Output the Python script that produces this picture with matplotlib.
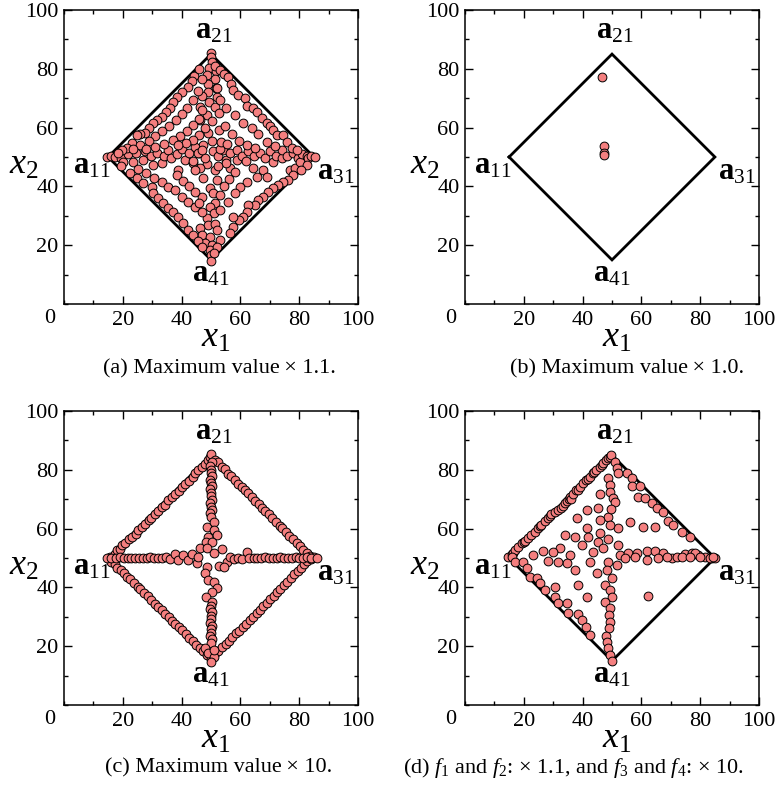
"""
Four scatter panels of solution points inside a diamond of reference points.
"""

import numpy as np
import matplotlib
matplotlib.use("Agg")
import matplotlib.pyplot as plt
from matplotlib.ticker import MultipleLocator

plt.rcParams["font.family"] = ["Liberation Serif", "DejaVu Serif"]
plt.rcParams["mathtext.fontset"] = "custom"
plt.rcParams["mathtext.rm"] = "Liberation Serif"
plt.rcParams["mathtext.it"] = "Liberation Serif:italic"
plt.rcParams["mathtext.bf"] = "Liberation Serif:bold"

# ========== data ==========

# diamond corners a11 -> a21 -> a31 -> a41 -> a11
diamond_x = [15, 50, 85, 50, 15]
diamond_y = [50, 85, 50, 15, 50]
vertex_names = [r"$\mathbf{a}_{11}$", r"$\mathbf{a}_{21}$",
                r"$\mathbf{a}_{31}$", r"$\mathbf{a}_{41}$"]

ticks = [20, 40, 60, 80, 100]

captions = [
    "(a) Maximum value\u2009× 1.1.",
    "(b) Maximum value\u2009× 1.0.",
    "(c) Maximum value\u2009× 10.",
    "(d) $f_1$ and $f_2$: × 1.1, and $f_3$ and $f_4$: × 10.",
]

# (a) maximum value x 1.1
pts_a_cross = [
    (50.0, 85.3), (50.0, 84.0), (50.2, 82.4), (49.4, 80.3), (51.8, 79.4), (48.6, 78.0),
    (51.4, 76.6), (49.1, 74.8), (51.6, 73.6), (49.0, 72.2), (46.8, 70.9), (52.0, 70.3),
    (49.2, 68.8), (51.5, 67.1), (46.3, 67.0), (48.6, 64.4), (52.6, 64.8), (50.2, 62.1),
    (46.2, 62.6), (52.6, 59.3), (49.1, 58.2), (50.3, 55.3), (47.4, 54.2), (50.8, 51.9),
    (48.5, 47.5), (51.4, 45.6), (47.4, 42.7), (52.0, 42.2), (49.7, 39.3), (50.8, 37.6),
    (46.8, 36.5), (51.5, 34.5), (49.5, 33.0), (50.9, 30.8), (48.5, 29.1), (49.1, 26.9),
    (51.4, 27.2), (52.0, 25.2), (46.3, 25.7), (46.8, 23.5), (49.7, 22.9), (48.0, 20.7),
    (50.2, 20.1), (49.7, 18.4), (50.0, 16.7), (50.0, 14.6),
    (14.5, 50.1), (16.0, 50.2), (17.5, 50.0), (19.3, 49.8), (20.2, 48.4), (21.8, 51.0),
    (23.4, 48.4), (24.5, 51.5), (27.0, 49.0), (27.5, 52.0), (29.5, 50.5), (30.4, 47.3),
    (31.5, 51.5), (33.2, 47.8), (34.0, 50.5), (35.5, 52.5), (36.5, 49.5), (38.9, 45.6),
    (38.5, 51.0), (40.0, 52.8), (41.0, 49.0), (42.5, 51.5), (44.0, 47.8), (44.5, 53.5),
    (46.3, 46.1), (46.0, 51.5), (48.0, 49.5), (52.5, 50.5), (54.0, 52.5), (55.0, 49.0),
    (56.5, 46.1), (56.5, 51.5), (58.7, 49.0), (59.0, 52.5), (60.5, 50.5), (62.0, 48.5),
    (62.5, 52.0), (64.4, 46.1), (64.5, 50.5), (66.5, 51.5), (67.8, 45.6), (68.5, 49.5),
    (70.0, 52.0), (71.2, 48.4), (72.0, 50.5), (74.0, 49.5), (74.0, 52.5), (76.0, 50.5),
    (76.9, 45.6), (78.0, 51.5), (78.6, 46.1), (79.5, 49.5), (80.3, 48.4), (81.0, 51.0),
    (82.5, 50.2), (83.1, 49.5), (84.0, 50.3), (85.3, 50.1),
    (45.5, 51.5), (43.8, 48.8), (53.0, 52.8), (55.0, 48.0), (52.5, 47.0), (47.0, 52.5),
    (53.5, 55.0), (44.5, 45.5), (55.5, 54.5),
]
pts_a_upper = [
    (44.3, 77.7), (43.4, 75.8), (42.3, 73.9), (40.3, 72.2), (38.3, 70.3), (37.2, 68.6),
    (36.0, 66.6), (34.6, 65.2), (33.2, 63.7), (31.8, 62.6), (30.4, 61.5), (29.0, 59.8),
    (27.5, 58.1), (26.0, 57.8), (24.7, 57.5), (23.0, 54.6), (21.3, 52.9), (19.8, 52.3),
    (18.2, 51.2), (46.0, 79.8),
    (47.0, 76.5), (45.5, 72.5), (44.0, 69.5), (42.0, 66.8), (40.3, 64.6), (38.0, 62.5),
    (35.8, 60.5), (33.5, 58.8), (31.0, 57.0), (28.8, 55.5), (26.0, 54.0), (23.5, 52.6),
    (47.0, 66.0), (45.8, 63.0), (44.0, 60.8), (41.8, 58.8), (39.5, 57.2), (37.0, 55.8),
    (34.0, 54.5), (31.0, 53.5), (28.0, 52.7),
    (47.8, 60.0), (46.0, 57.5), (43.8, 55.8), (41.5, 54.8), (38.8, 54.0),
    (51.5, 81.0), (53.0, 79.5), (54.5, 78.4), (55.8, 77.1), (56.9, 74.8), (57.6, 72.8),
    (59.3, 71.1), (61.6, 70.0), (62.1, 67.3), (64.4, 66.8), (65.5, 65.4), (67.2, 63.4),
    (68.9, 61.4), (70.0, 60.5), (71.2, 59.2), (72.3, 57.5), (74.6, 57.5), (75.7, 55.2),
    (77.4, 53.2), (79.1, 52.4),
    (51.9, 73.4), (53.1, 69.4), (55.1, 66.6), (58.2, 64.3), (61.0, 61.5), (63.8, 59.8),
    (66.1, 57.7), (68.9, 55.2), (71.8, 53.6),
    (54.8, 60.7), (57.0, 57.7), (59.6, 55.5), (62.1, 54.1), (65.0, 53.0),
]
pts_a_lower = [
    (19.5, 47.0), (22.4, 44.4), (24.7, 42.7), (27.0, 41.0), (29.8, 39.9), (30.4, 37.6),
    (32.1, 35.9), (33.8, 34.2), (35.5, 32.5), (37.2, 31.4), (38.9, 29.7), (40.6, 27.4),
    (42.3, 25.2), (44.0, 23.5), (45.5, 21.5), (47.0, 19.5),
    (33.2, 41.6), (35.5, 39.9), (37.8, 38.8), (40.0, 36.5), (42.3, 34.8), (44.5, 33.1),
    (46.8, 31.4), (28.0, 44.5), (30.5, 43.0), (25.0, 46.0),
    (38.5, 44.0), (40.5, 42.0), (42.5, 40.0), (44.5, 38.0), (46.0, 34.5),
    (82.5, 47.3), (80.5, 45.5), (78.0, 43.9), (76.3, 42.2), (74.5, 41.5), (72.9, 40.5),
    (71.2, 39.3), (69.5, 38.2), (67.8, 36.5), (66.1, 35.4), (64.9, 33.7), (62.7, 33.7),
    (62.1, 31.4), (61.0, 29.7), (59.5, 28.5), (57.6, 29.7), (57.6, 26.3), (56.5, 24.0),
    (53.1, 21.8), (52.0, 19.5), (51.0, 17.5),
    (68.9, 43.3), (65.5, 43.3), (62.1, 41.6), (59.9, 39.9), (58.2, 37.6), (55.9, 34.8),
    (53.1, 32.0),
    (58.0, 45.0), (56.0, 42.5), (54.5, 40.0), (53.0, 37.0),
]

# (b) maximum value x 1.0
pts_b = [(46.5, 77.2), (47.2, 53.7), (47.2, 51.5), (47.2, 50.8)]

# (c) maximum value x 10
pts_c_edges = [
    (15.8, 50.3), (17.2, 51.3), (18.0, 52.6), (19.0, 53.0), (19.8, 54.3), (20.9, 55.1),
    (22.0, 56.3), (23.1, 57.2), (24.5, 58.3), (25.2, 59.6), (26.5, 60.6), (27.4, 61.7),
    (28.8, 62.9), (29.6, 63.6), (30.9, 65.0), (32.0, 65.9), (33.4, 67.4), (34.3, 68.1),
    (35.5, 69.6), (36.8, 70.7), (37.9, 71.9), (39.2, 72.8), (40.1, 74.1), (41.3, 75.2),
    (42.4, 76.3), (43.8, 77.7), (44.6, 78.8), (45.7, 80.0), (46.9, 80.9), (47.8, 82.1),
    (48.9, 83.2), (49.5, 84.3), (50.0, 85.3),
    (51.2, 83.4), (52.3, 82.6), (53.6, 81.0), (54.6, 80.2), (55.9, 78.6), (56.8, 77.9),
    (58.0, 76.6), (59.3, 75.3), (60.5, 74.2), (61.4, 73.1), (62.7, 72.0), (63.9, 70.8),
    (65.0, 69.4), (66.3, 68.2), (67.5, 67.1), (68.4, 66.0), (69.7, 65.0), (70.8, 63.6),
    (72.0, 62.3), (73.3, 61.0), (74.2, 60.1), (75.5, 58.9), (76.7, 57.6), (77.8, 56.5),
    (79.1, 55.1), (80.2, 54.2), (81.3, 52.8), (82.5, 51.6), (83.6, 50.8), (85.2, 50.2),
    (16.0, 48.6), (17.3, 47.9), (17.9, 46.6), (19.4, 45.8), (20.5, 44.9), (21.3, 43.5),
    (22.6, 42.7), (23.8, 41.6), (25.1, 40.2), (26.0, 39.3), (27.3, 38.1), (28.5, 37.0),
    (29.6, 35.8), (30.8, 34.5), (32.0, 33.5), (33.3, 32.4), (34.2, 31.1), (35.6, 30.0),
    (36.7, 28.7), (37.9, 27.5), (39.0, 26.6), (40.3, 25.4), (41.4, 24.0), (42.5, 22.9),
    (43.8, 21.9), (45.0, 20.5), (46.2, 19.4), (47.4, 18.3), (48.6, 17.0), (50.0, 15.5),
    (51.5, 17.6), (52.5, 18.4), (53.8, 19.6), (55.0, 20.9), (56.1, 21.8), (57.3, 23.0),
    (58.5, 24.4), (59.5, 25.2), (60.8, 26.6), (62.0, 27.7), (63.1, 28.8), (64.4, 30.1),
    (65.5, 31.2), (66.7, 32.4), (67.8, 33.6), (69.0, 34.8), (70.2, 36.0), (71.3, 37.1),
    (72.5, 38.4), (73.6, 39.5), (74.8, 40.8), (76.0, 42.0), (77.1, 43.1), (78.3, 44.4),
    (79.5, 45.5), (80.6, 46.7), (81.8, 47.8), (82.8, 49.0), (84.0, 49.6),
]
pts_c_cross = [
    (50.2, 82.5), (49.8, 81.3), (50.1, 80.1), (49.9, 79.0), (50.3, 77.8), (49.7, 76.7),
    (50.0, 75.6), (50.2, 74.4), (49.8, 73.3), (50.1, 72.1), (49.9, 71.0), (50.3, 69.8),
    (49.8, 68.7), (50.0, 67.5), (50.2, 66.4), (49.7, 65.2), (50.1, 64.1), (48.6, 60.7),
    (50.9, 62.4), (51.1, 59.5), (52.0, 57.8), (49.1, 57.3), (48.2, 55.6), (50.3, 55.6),
    (46.3, 53.3), (48.6, 53.3), (53.7, 53.1), (50.9, 51.6),
    (45.2, 48.2), (48.6, 47.0), (52.6, 47.4), (55.4, 48.8), (48.0, 44.8), (49.1, 42.5),
    (50.9, 41.9), (52.0, 39.9), (50.3, 38.5), (48.3, 36.8), (50.5, 35.1), (54.5, 47.0),
    (50.0, 33.8), (49.8, 32.6), (50.2, 31.5), (49.9, 30.3), (50.1, 29.2), (49.7, 28.0),
    (50.2, 26.9), (49.9, 25.7), (50.1, 24.6), (49.8, 23.4), (50.2, 22.3), (49.9, 21.1),
    (48.0, 19.3), (49.1, 17.6), (50.9, 16.4), (50.0, 14.7), (51.1, 18.7),
    (14.5, 50.0), (16.0, 50.1), (17.6, 50.0), (19.0, 50.2), (20.3, 49.9), (21.6, 50.1),
    (22.9, 50.0), (24.2, 50.1), (25.5, 49.9), (26.8, 50.1), (28.1, 50.0), (29.4, 50.2),
    (30.7, 49.9), (32.0, 50.1), (33.3, 50.0), (34.6, 50.2), (36.2, 49.8), (37.6, 51.2),
    (38.9, 49.4), (40.6, 51.0), (42.3, 49.3), (43.5, 51.4), (45.7, 50.4),
    (56.3, 50.2), (57.7, 49.8), (59.2, 50.1), (60.5, 49.6), (62.2, 52.0), (63.0, 50.1),
    (64.5, 49.9), (65.8, 50.1), (67.1, 50.0), (68.4, 50.2), (69.7, 49.9), (71.0, 50.1),
    (72.3, 50.0), (73.6, 50.2), (74.9, 49.9), (76.2, 50.1), (77.5, 50.0), (78.8, 50.2),
    (80.1, 49.9), (81.4, 50.1), (82.6, 50.3), (83.9, 50.0), (86.0, 50.0),
]

# (d) f1, f2 x 1.1 and f3, f4 x 10
pts_d_upper = [
    (14.7, 50.5), (15.9, 51.2), (16.4, 51.6), (17.0, 52.7), (18.1, 53.9), (19.3, 55.0),
    (20.0, 55.5), (20.4, 55.8), (21.5, 56.9), (22.6, 57.8), (23.8, 59.0), (24.9, 60.1),
    (25.4, 60.8), (26.0, 61.2), (27.2, 62.6), (28.3, 63.7), (28.9, 64.3), (29.4, 64.9),
    (30.6, 65.5), (31.7, 66.3), (32.8, 67.1), (33.5, 67.8), (34.0, 68.6), (34.8, 69.4),
    (35.3, 69.9), (35.7, 70.9), (36.0, 70.2), (36.8, 71.7), (37.9, 73.1), (38.4, 73.2),
    (39.1, 74.3), (40.2, 75.4), (41.3, 76.5), (41.9, 76.8), (42.5, 77.7), (43.6, 78.8),
    (44.0, 79.2), (44.7, 79.9), (45.9, 81.1), (46.5, 81.6), (47.0, 82.2), (48.1, 83.3),
    (48.7, 84.0), (49.3, 84.5), (49.8, 85.0),
    (51.0, 82.7), (51.6, 80.7), (52.1, 78.8), (55.0, 78.8), (56.7, 77.1), (56.7, 74.6),
    (59.5, 74.6), (58.9, 70.8), (61.2, 70.3), (63.5, 68.6), (65.2, 66.9), (67.5, 65.7),
    (69.2, 62.5), (70.9, 61.2), (73.7, 58.9), (76.5, 57.2),
    (60.7, 60.6), (64.6, 60.6), (56.1, 62.3), (52.1, 60.1), (48.7, 77.1), (49.3, 74.8),
    (49.3, 72.5), (50.5, 70.5), (51.0, 69.1), (45.9, 71.6), (48.7, 64.0), (49.3, 61.2),
    (45.3, 67.1), (45.9, 62.9), (41.4, 66.3), (38.0, 63.5), (41.6, 60.1), (34.0, 57.8),
    (45.9, 58.4), (45.3, 55.5), (39.7, 54.4), (43.6, 52.1), (35.7, 51.0), (32.3, 53.3),
    (30.0, 52.1), (26.6, 52.3), (23.2, 51.0), (52.1, 54.4), (52.7, 51.0), (48.7, 56.5),
    (37.5, 57.0), (42.0, 57.0), (46.8, 53.5), (49.5, 66.5),
    (55.6, 51.6), (58.4, 51.6), (61.8, 52.3), (64.6, 52.3), (67.5, 51.6), (70.3, 49.9),
    (72.0, 50.4), (74.8, 51.2), (77.1, 51.6), (79.4, 51.0), (81.6, 50.4), (83.9, 49.9),
    (85.2, 49.9), (78.2, 51.7),
]
pts_d_lower = [
    (15.9, 50.4), (17.0, 48.7), (19.8, 48.7), (21.0, 46.5), (22.1, 43.6), (24.4, 43.1),
    (25.5, 41.4), (27.2, 39.1), (30.6, 40.2), (30.6, 36.8), (31.7, 34.6), (34.6, 34.6),
    (35.1, 31.2), (38.5, 30.8), (39.7, 28.9), (41.2, 26.6), (42.5, 23.8),
    (38.5, 40.8), (41.4, 36.8), (44.8, 44.8), (37.4, 45.9), (34.6, 48.2), (28.3, 49.0),
    (31.7, 48.7), (42.5, 48.7), (48.7, 48.7), (51.6, 47.6), (48.2, 45.9), (49.9, 43.1),
    (47.6, 40.8), (49.3, 39.1), (49.9, 36.8), (47.6, 34.9), (49.3, 32.9), (49.1, 30.6),
    (49.3, 28.3), (49.1, 26.1), (47.9, 23.6), (48.4, 21.5), (48.7, 19.3), (49.3, 17.0),
    (49.9, 14.9), (62.4, 37.2),
    (54.4, 49.9), (57.8, 50.4), (61.8, 49.3), (65.8, 49.9), (68.6, 50.4), (73.7, 50.4),
    (76.5, 50.4), (79.9, 50.4), (83.3, 49.9), (84.5, 50.4),
]

panel_points = [
    pts_a_cross + pts_a_upper + pts_a_lower,
    pts_b,
    pts_c_edges + pts_c_cross,
    pts_d_upper + pts_d_lower,
]

# ========== drawing ==========

W, H = 778, 785
fig = plt.figure(figsize=(W / 100, H / 100), dpi=100)

# axes boxes in pixels: left, top
boxes = [(64, 10), (465, 10), (64, 411), (465, 411)]
SIZE = 294
caption_pos = [(219, 369, "center"), (627, 369, "center"),
               (219, 768, "center"), (403, 768, "left")]

marker_face = "#f47f7f"

for idx, (left, top) in enumerate(boxes):
    ax = fig.add_axes([left / W, 1 - (top + SIZE) / H, SIZE / W, SIZE / H])
    ax.set_xlim(0, 100)
    ax.set_ylim(0, 100)

    ax.plot(diamond_x, diamond_y, color="black", lw=2.0, zorder=2,
            solid_joinstyle="miter")
    px, py = zip(*panel_points[idx])
    ax.scatter(px, py, s=40, facecolor=marker_face, edgecolor="black",
               linewidths=0.7, zorder=3)

    # vertex labels
    lab_kw = dict(fontsize=22, va="baseline", clip_on=False, zorder=4)
    ax.text(15.8, 44.4, vertex_names[0], ha="right", **lab_kw)
    ax.text(50.8, 90.4, vertex_names[1], ha="center", **lab_kw)
    ax.text(86.2, 42.2, vertex_names[2], ha="left", **lab_kw)
    ax.text(49.8, 7.6, vertex_names[3], ha="center", **lab_kw)

    ax.set_xticks(ticks)
    ax.set_yticks(ticks)
    ax.xaxis.set_minor_locator(MultipleLocator(10))
    ax.yaxis.set_minor_locator(MultipleLocator(10))
    ax.tick_params(which="both", direction="in", top=True, right=True,
                   width=1.0, labelsize=16)
    ax.tick_params(which="major", length=5.5)
    ax.tick_params(which="minor", length=3)
    ax.tick_params(axis="x", pad=5)
    ax.tick_params(axis="y", pad=4)
    for sp in ax.spines.values():
        sp.set_linewidth(1.1)

    # corner zero
    ax.text(-0.048, -0.048, "0", transform=ax.transAxes, fontsize=16,
            ha="center", va="center")

    ax.text(-0.135, 0.47, "$x_2$", transform=ax.transAxes, fontsize=26,
            ha="center", va="center")
    ax.text(0.515, -0.118, "$x_1$", transform=ax.transAxes, fontsize=26,
            ha="center", va="center")

    cx, cy, ha = caption_pos[idx]
    fig.text(cx / W, 1 - cy / H, captions[idx], fontsize=16, ha=ha, va="center")

fig.savefig("out.png", dpi=100)
plt.close(fig)
